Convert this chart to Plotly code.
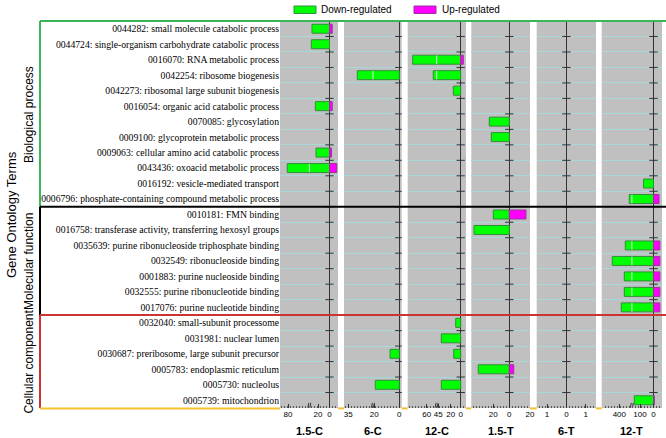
import numpy as np
import plotly.graph_objects as go

# ---------------- data ----------------
terms = [
    "0044282: small molecule catabolic process",
    "0044724: single-organism carbohydrate catabolic process",
    "0016070: RNA metabolic process",
    "0042254: ribosome biogenesis",
    "0042273: ribosomal large subunit biogenesis",
    "0016054: organic acid catabolic process",
    "0070085: glycosylation",
    "0009100: glycoprotein metabolic process",
    "0009063: cellular amino acid catabolic process",
    "0043436: oxoacid metabolic process",
    "0016192: vesicle-mediated transport",
    "0006796: phosphate-containing compound metabolic process",
    "0010181: FMN binding",
    "0016758: transferase activity, transferring hexosyl groups",
    "0035639: purine ribonucleoside triphosphate binding",
    "0032549: ribonucleoside binding",
    "0001883: purine nucleoside binding",
    "0032555: purine ribonucleotide binding",
    "0017076: purine nucleotide binding",
    "0032040: small-subunit processome",
    "0031981: nuclear lumen",
    "0030687: preribosome, large subunit precursor",
    "0005783: endoplasmic reticulum",
    "0005730: nucleolus",
    "0005739: mitochondrion",
]
groups = ["Biological process", "Molecular function", "Cellular component"]
group_sizes = [12, 7, 6]
panels = ["1.5-C", "6-C", "12-C", "1.5-T", "6-T", "12-T"]

# number of down-/up-regulated genes per term (rows in the order of `terms`)
down_1_5C = [30.5, 31.7, 0, 0, 0, 24.7, 0, 0, 23.5, 80.7, 0, 0,
             0, 0, 0, 0, 0, 0, 0,
             0, 0, 0, 0, 0, 0]
up_1_5C = [4.7, 0, 0, 0, 0, 4.7, 0, 0, 3.5, 12.5, 0, 0,
           0, 0, 0, 0, 0, 0, 0,
           0, 0, 0, 0, 0, 0]
down_6C = [0, 0, 0, 29.9, 0, 0, 0, 0, 0, 0, 0, 0,
           0, 0, 0, 0, 0, 0, 0,
           0, 0, 7.4, 0, 19.2, 0]
up_6C = [0] * 25
down_12C = [0, 0, 81, 52.1, 14.8, 0, 0, 0, 0, 0, 0, 0,
            0, 0, 0, 0, 0, 0, 0,
            10, 38.8, 14, 0, 38.8, 0]
up_12C = [0, 0, 5.2, 0, 0, 0, 0, 0, 0, 0, 0, 0,
          0, 0, 0, 0, 0, 0, 0,
          0, 0, 0, 0, 0, 0]
down_1_5T = [0, 0, 0, 0, 0, 0, 25, 22.5, 0, 0, 0, 0,
             20, 44.1, 0, 0, 0, 0, 0,
             0, 0, 0, 38.8, 0, 0]
up_1_5T = [0, 0, 0, 0, 0, 0, 0, 0, 0, 0, 0, 0,
           16.1, 0, 0, 0, 0, 0, 0,
           0, 0, 0, 4.3, 0, 0]
down_6T = [0] * 25
up_6T = [0] * 25
down_12T = [0, 0, 0, 0, 0, 0, 0, 0, 0, 0, 74, 275,
            0, 0, 325, 487.5, 337.5, 337.5, 375,
            0, 0, 0, 0, 0, 142]
up_12T = [0, 0, 0, 0, 0, 0, 0, 0, 0, 0, 0, 41,
          0, 0, 47, 47, 47, 47, 47,
          0, 0, 0, 0, 0, 6]

# tick values (negative = down-regulated side); labels show magnitudes
ticks_1_5C = [-80, -20, 0]
ticks_6C = [-35, -20, 0]
ticks_12C = [-60, -45, -20, 0]
ticks_1_5T = [-20, 0, 20]
ticks_6T = [-1, 0, 1]
ticks_12T = [-400, -100, 0]

downs = [down_1_5C, down_6C, down_12C, down_1_5T, down_6T, down_12T]
ups = [up_1_5C, up_6C, up_12C, up_1_5T, up_6T, up_12T]
ticks = [ticks_1_5C, ticks_6C, ticks_12C, ticks_1_5T, ticks_6T, ticks_12T]

# ---------------- broken-axis scales (value -> axis units) ----------------
down_scale = [
    [(0, 0), (35, 20.1), (60, 20.6), (80, 41.5), (100, 62.4)],
    [(0, 0), (20, 25), (21, 26.3), (35, 51), (40, 59.8)],
    [(0, 0), (45, 22.5), (48, 24), (60, 34), (90, 54)],
    [(0, 0), (50, 40)],
    [(0, 0), (2, 38.8)],
    [(0, 0), (100, 13.5), (160, 21.6), (250, 22.2), (400, 34.2), (800, 66.2)],
]
up_scale = [
    [(0, 0), (20, 11.5)],
    [(0, 0), (20, 25)],
    [(0, 0), (45, 22.5)],
    [(0, 0), (20, 20.7)],
    [(0, 0), (2, 38.8)],
    [(0, 0), (100, 13.5)],
]
breaks = [35, 21, 48, None, None, 160]


def scale(v, anchors):
    a = np.array(anchors, float)
    return float(np.interp(abs(v), a[:, 0], a[:, 1]))


def pos(v, p):
    if v < 0:
        return -scale(v, down_scale[p])
    return scale(v, up_scale[p])


# ---------------- layout geometry ----------------
W, H = 666, 438
ML, MR, MT, MB = 280, 4, 21, 30
PW = W - ML - MR
panel_px = [(280, 338), (344, 401.7), (407.7, 466), (471.3, 530), (536.7, 596), (601.7, 662)]
zero_px = [329.5, 399.3, 460.7, 509.3, 566.4, 653.5]
n = len(terms)


def px2x(px):
    return (px - ML) / PW


def row2y(r):
    return 1 - r / n


GREEN_BAR = "#00ff00"
GREEN_EDGE = "#2f8f3a"
MAG_BAR = "#ff00ff"
MAG_EDGE = "#993399"

fig = go.Figure()
layout = dict(
    width=W, height=H,
    margin=dict(l=ML, r=MR, t=MT, b=MB, pad=0),
    paper_bgcolor="white", plot_bgcolor="#c0c0c0",
    barmode="overlay", showlegend=False,
    font=dict(family="Liberation Sans", color="black"),
)

for p in range(6):
    xn = "x" if p == 0 else f"x{p + 1}"
    yn = "y" if p == 0 else f"y{p + 1}"
    down, up = downs[p], ups[p]
    di = [i for i, v in enumerate(down) if v > 0]
    ui = [i for i, v in enumerate(up) if v > 0]
    if di:
        fig.add_trace(go.Bar(
            y=di, x=[pos(-down[i], p) for i in di], orientation="h",
            xaxis=xn, yaxis=yn, width=0.58, name="Down-regulated",
            marker=dict(color=GREEN_BAR, line=dict(color=GREEN_EDGE, width=1)),
            hoverinfo="skip"))
    if ui:
        fig.add_trace(go.Bar(
            y=ui, x=[pos(up[i], p) for i in ui], orientation="h",
            xaxis=xn, yaxis=yn, width=0.58, name="Up-regulated",
            marker=dict(color=MAG_BAR, line=dict(color=MAG_EDGE, width=1)),
            hoverinfo="skip"))
    # break marks inside bars crossing the axis break + on the axis
    b = breaks[p]
    if b is not None:
        bx = pos(-b, p)
        xs, ys = [], []
        for i in di:
            if down[i] > b:
                xs += [bx, bx, None]
                ys += [i - 0.27, i + 0.27, None]
        if xs:
            fig.add_trace(go.Scatter(x=xs, y=ys, mode="lines", xaxis=xn, yaxis=yn,
                                     line=dict(color="rgba(255,255,255,0.85)", width=1),
                                     hoverinfo="skip"))
        fig.add_trace(go.Scatter(
            x=[bx - 1.6, bx - 0.6, None, bx + 0.4, bx + 1.4],
            y=[n - 0.5 - 0.02, n - 0.5 - 0.33, None, n - 0.5 - 0.02, n - 0.5 - 0.33],
            mode="lines", xaxis=xn, yaxis=yn,
            line=dict(color="#333333", width=1), hoverinfo="skip"))
    # small ticks on the zero line at row boundaries
    fig.add_trace(go.Scatter(
        x=[0] * (n - 1), y=[k + 0.5 for k in range(n - 1)], mode="markers",
        xaxis=xn, yaxis=yn,
        marker=dict(symbol="line-ew", size=6, line=dict(color="#333333", width=1)),
        hoverinfo="skip"))

    a, bpx = panel_px[p]
    tv = [pos(t, p) for t in ticks[p]]
    tt = [str(abs(t)) for t in ticks[p]]
    layout["xaxis" if p == 0 else f"xaxis{p + 1}"] = dict(
        domain=[px2x(a), px2x(bpx)], range=[a - zero_px[p], bpx - zero_px[p]],
        anchor=yn, tickmode="array", tickvals=tv, ticktext=tt, tickangle=0,
        ticks="inside", ticklen=4, tickcolor="#333333", tickwidth=1,
        minor=dict(ticks="inside", ticklen=2, dtick=3, tick0=0, tickcolor="#555555"),
        showgrid=False, zeroline=True, zerolinecolor="#333333", zerolinewidth=1,
        showline=False, fixedrange=True, automargin=False,
        tickfont=dict(family="Liberation Sans", size=8, color="black"),
    )
    layout["yaxis" if p == 0 else f"yaxis{p + 1}"] = dict(
        domain=[0, 1], range=[n - 0.5, -0.5], anchor=xn,
        tickmode="array", tickvals=list(range(n)), ticktext=terms,
        showticklabels=(p == 0), ticks="", showgrid=False, zeroline=False,
        fixedrange=True, automargin=False,
        minor=dict(tickmode="array", tickvals=[k + 0.5 for k in range(n - 1)],
                   showgrid=True, gridcolor="#a8d8da", gridwidth=1, ticks=""),
        tickfont=dict(family="Liberation Serif", size=9.7, color="black"),
    )

# ---------------- frame lines ----------------
shapes = []
bounds = np.cumsum([0] + group_sizes)
frame_cols = ["#3cb55a", "#000000", "#cc3333"]
xl = px2x(40)
xr = px2x(666)
for g in range(3):
    y0, y1 = row2y(bounds[g]), row2y(bounds[g + 1])
    shapes.append(dict(type="line", xref="paper", yref="paper", x0=xl, x1=xl, y0=y0, y1=y1,
                       line=dict(color=frame_cols[g], width=2)))
    shapes.append(dict(type="line", xref="paper", yref="paper", x0=xl, x1=xr, y0=y0, y1=y0,
                       line=dict(color=frame_cols[g], width=2)))
# yellow bottom line (visible outside the panels)
yel = "#f5c030"
segs = [(40, panel_px[0][0])] + [(panel_px[k][1], panel_px[k + 1][0]) for k in range(5)]
for s0, s1 in segs:
    shapes.append(dict(type="line", xref="paper", yref="paper", x0=px2x(s0), x1=px2x(s1),
                       y0=-0.001, y1=-0.001, line=dict(color=yel, width=2)))

PH = H - MT - MB


def py(pxy):
    return 1 - (pxy - MT) / PH


# legend (manual)
shapes.append(dict(type="rect", xref="paper", yref="paper", x0=px2x(294), x1=px2x(316),
                   y0=py(13.5), y1=py(6), fillcolor=GREEN_BAR, line=dict(color=GREEN_EDGE, width=1)))
shapes.append(dict(type="rect", xref="paper", yref="paper", x0=px2x(414), x1=px2x(436),
                   y0=py(13.5), y1=py(6), fillcolor=MAG_BAR, line=dict(color=MAG_EDGE, width=1)))
layout["shapes"] = shapes

ann = [
    dict(text="Down-regulated", x=px2x(319), y=py(9.5), xanchor="left", yanchor="middle",
         font=dict(size=10)),
    dict(text="Up-regulated", x=px2x(440), y=py(9.5), xanchor="left", yanchor="middle",
         font=dict(size=10)),
    dict(text="Gene Ontology Terms", x=px2x(11), y=py(215), textangle=-90,
         xanchor="center", yanchor="middle", font=dict(size=13)),
]
for g in range(3):
    ann.append(dict(text=groups[g], x=px2x(29), y=(row2y(bounds[g]) + row2y(bounds[g + 1])) / 2,
                    textangle=-90, xanchor="center", yanchor="middle", font=dict(size=12)))
for p in range(6):
    a, bpx = panel_px[p]
    ann.append(dict(text="<b>%s</b>" % panels[p], x=px2x((a + bpx) / 2), y=py(430.5),
                    xanchor="center", yanchor="middle", font=dict(size=11)))
for a_ in ann:
    a_.update(xref="paper", yref="paper", showarrow=False)
layout["annotations"] = ann

fig.update_layout(**layout)
fig.write_html("out.html", config={"displayModeBar": False},
               post_script="document.body.style.margin='0';document.body.style.overflow='hidden';")
